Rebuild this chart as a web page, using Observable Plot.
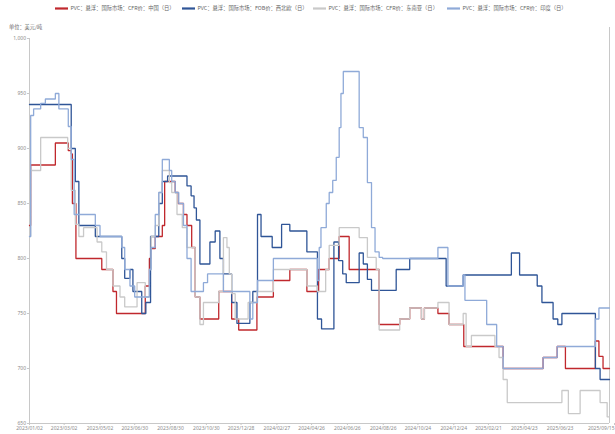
<!DOCTYPE html>
<html><head><meta charset="utf-8">
<script src="https://cdn.jsdelivr.net/npm/d3@7"></script>
<script src="https://cdn.jsdelivr.net/npm/@observablehq/plot@0.6"></script>
<style>
body{margin:0;background:#fff;font-family:"Noto Sans CJK SC","Noto Sans",sans-serif;}
#wrap{position:relative;width:615px;height:434px;overflow:hidden;}
#wrap svg{position:absolute;left:0;top:0;}
</style></head>
<body><div id="wrap"></div>
<script>
const seriesNames = ["PVC：悬浮：国际市场：CFR价：中国（日）","PVC：悬浮：国际市场：FOB价：西北欧（日）","PVC：悬浮：国际市场：CFR价：东南亚（日）","PVC：悬浮：国际市场：CFR价：印度（日）"];
const seriesColors = ["#c0282d","#2f5597","#c9c9c9","#8faad8"];
const unitLabel = "单位：美元/吨";
const yTicks = [650,700,750,800,850,900,950,1000];
const xTickDates = ["2023-01-02","2023-03-02","2023-05-02","2023-06-30","2023-08-30","2023-10-30","2023-12-28","2024-02-27","2024-04-26","2024-06-26","2024-08-26","2024-10-24","2024-12-24","2025-02-21","2025-04-23","2025-06-23","2025-09-15"];

const cfrChina = [["2023-01-02",830],["2023-01-04",885],["2023-02-15",905],["2023-03-09",898],["2023-03-14",895],["2023-03-16",850],["2023-03-22",800],["2023-05-05",790],["2023-05-24",770],["2023-05-30",750],["2023-07-18",775],["2023-07-25",800],["2023-07-28",809],["2023-08-04",820],["2023-08-16",830],["2023-08-20",870],["2023-09-07",860],["2023-09-12",850],["2023-09-21",840],["2023-09-27",830],["2023-10-05",810],["2023-10-11",765],["2023-10-19",745],["2023-11-20",770],["2023-12-12",745],["2023-12-24",735],["2024-01-24",765],["2024-02-21",780],["2024-03-20",790],["2024-04-18",770],["2024-05-08",790],["2024-05-26",800],["2024-06-12",820],["2024-06-29",790],["2024-08-19",740],["2024-09-23",745],["2024-10-10",755],["2024-10-30",745],["2024-11-04",755],["2024-11-27",750],["2024-12-16",740],["2025-01-10",720],["2025-03-18",700],["2025-05-25",710],["2025-06-18",720],["2025-07-02",700],["2025-08-22",725],["2025-08-28",711],["2025-09-04",700],["2025-09-15",700]];

const fobNWEurope = [["2023-01-02",940],["2023-03-14",900],["2023-03-21",870],["2023-03-27",830],["2023-04-24",820],["2023-06-08",800],["2023-06-13",782],["2023-06-22",790],["2023-06-27",770],["2023-07-12",750],["2023-07-19",760],["2023-07-27",820],["2023-08-10",850],["2023-08-16",870],["2023-08-25",875],["2023-09-27",866],["2023-10-04",857],["2023-10-09",846],["2023-10-13",835],["2023-10-19",795],["2023-11-05",815],["2023-11-14",825],["2023-11-22",800],["2023-11-28",786],["2023-12-12",760],["2023-12-21",741],["2024-01-12",760],["2024-01-17",770],["2024-01-25",840],["2024-01-31",820],["2024-02-19",810],["2024-03-06",831],["2024-03-20",825],["2024-04-18",806],["2024-05-06",745],["2024-05-13",736],["2024-06-03",815],["2024-06-11",798],["2024-06-18",786],["2024-06-24",778],["2024-07-16",805],["2024-07-23",795],["2024-07-30",781],["2024-08-06",771],["2024-09-17",790],["2024-10-10",800],["2024-12-11",775],["2025-01-09",785],["2025-04-01",805],["2025-04-15",785],["2025-05-15",775],["2025-05-23",760],["2025-06-11",745],["2025-06-19",740],["2025-06-26",750],["2025-08-22",700],["2025-08-30",690],["2025-09-15",690]];

const cfrSEAsia = [["2023-01-02",820],["2023-01-04",880],["2023-01-21",910],["2023-03-08",900],["2023-03-14",862],["2023-03-21",831],["2023-03-27",820],["2023-04-04",828],["2023-04-27",815],["2023-05-05",806],["2023-05-13",790],["2023-05-24",775],["2023-06-05",765],["2023-06-13",756],["2023-07-04",778],["2023-07-18",765],["2023-07-25",790],["2023-07-28",820],["2023-08-04",830],["2023-08-10",860],["2023-08-16",880],["2023-08-28",869],["2023-09-01",860],["2023-09-10",840],["2023-09-19",828],["2023-09-27",810],["2023-10-11",765],["2023-10-19",740],["2023-10-25",760],["2023-11-20",770],["2023-11-28",819],["2023-12-04",810],["2023-12-08",786],["2023-12-12",768],["2023-12-18",745],["2024-01-09",760],["2024-01-24",770],["2024-02-21",790],["2024-04-18",775],["2024-05-06",770],["2024-05-20",790],["2024-05-26",812],["2024-06-12",828],["2024-07-16",819],["2024-07-30",801],["2024-08-14",790],["2024-08-19",735],["2024-09-23",745],["2024-10-10",755],["2024-10-30",745],["2024-11-04",755],["2024-11-27",760],["2024-12-16",740],["2025-01-09",750],["2025-01-14",720],["2025-01-23",730],["2025-03-04",720],["2025-03-11",710],["2025-03-18",690],["2025-03-25",669],["2025-06-26",680],["2025-07-07",659],["2025-07-27",680],["2025-08-30",669],["2025-09-11",656],["2025-09-15",656]];

const cfrIndia = [["2023-01-02",820],["2023-01-04",930],["2023-01-09",936],["2023-01-21",941],["2023-01-29",945],["2023-02-15",950],["2023-02-21",936],["2023-03-09",920],["2023-03-14",890],["2023-03-19",840],["2023-04-24",830],["2023-05-02",820],["2023-06-08",810],["2023-06-13",790],["2023-06-22",775],["2023-06-30",765],["2023-07-25",790],["2023-07-28",810],["2023-08-04",840],["2023-08-10",860],["2023-08-16",890],["2023-08-28",880],["2023-09-01",870],["2023-09-07",860],["2023-09-13",850],["2023-09-21",830],["2023-09-27",800],["2023-10-04",770],["2023-10-25",778],["2023-11-01",786],["2023-11-28",770],["2024-01-12",745],["2024-01-17",760],["2024-01-25",780],["2024-02-21",800],["2024-05-06",780],["2024-05-09",810],["2024-05-12",828],["2024-05-21",850],["2024-05-26",860],["2024-06-01",871],["2024-06-07",892],["2024-06-12",919],["2024-06-15",950],["2024-06-19",970],["2024-07-16",919],["2024-07-23",910],["2024-07-30",869],["2024-08-06",828],["2024-08-12",806],["2024-08-19",801],["2024-08-25",800],["2024-11-27",810],["2024-12-14",775],["2025-01-09",785],["2025-01-12",762],["2025-02-18",740],["2025-03-07",720],["2025-03-18",700],["2025-05-25",710],["2025-06-18",720],["2025-08-22",745],["2025-08-28",755],["2025-09-15",755]];

const allSeries = [cfrChina, fobNWEurope, cfrSEAsia, cfrIndia];
const parse = d3.utcParse("%Y-%m-%d");
const rows = allSeries.flatMap((s, i) => s.map(([d, v]) => ({date: parse(d), value: v, name: seriesNames[i]})));
const tickDates = xTickDates.map(parse);
const xDomain = [tickDates[0], tickDates[tickDates.length - 1]];
const axisColor = "#c8c8c8";
const fmtDate = d3.utcFormat("%Y/%m/%d");

const chart = Plot.plot({
  width: 615, height: 434,
  marginLeft: 29, marginRight: 6, marginTop: 38, marginBottom: 11,
  style: {fontFamily: "'Noto Sans', sans-serif", fontSize: "5px", color: "#8c8c8c", background: "transparent"},
  x: {type: "utc", domain: xDomain},
  y: {domain: [650, 1000]},
  color: {domain: seriesNames, range: seriesColors},
  marks: [
    Plot.ruleX([xDomain[0]], {stroke: axisColor, strokeWidth: 1}),
    Plot.ruleX([xDomain[1]], {stroke: axisColor, strokeWidth: 1, y1: 650, y2: 1010}),
    Plot.ruleY([650], {stroke: axisColor, strokeWidth: 1}),
    Plot.axisY({ticks: yTicks, tickFormat: d3.format(","), tickSize: 2, tickPadding: 1.5, stroke: axisColor, fill: "#8c8c8c", label: null}),
    Plot.axisX({ticks: tickDates.slice(0, -1), tickFormat: fmtDate, tickSize: 2, tickPadding: 1, stroke: axisColor, fill: "#8c8c8c", label: null}),
    Plot.axisX({ticks: tickDates.slice(-1), tickFormat: fmtDate, tickSize: 2, tickPadding: 1, stroke: axisColor, fill: "#8c8c8c", label: null, textAnchor: "end", dx: 5}),
    Plot.line(rows, {x: "date", y: "value", z: "name", stroke: "name", curve: "step-after", strokeWidth: 1.3, strokeLinejoin: "miter"})
  ]
});
document.getElementById("wrap").appendChild(chart);

// legend and unit label (overlay)
const ov = d3.select("#wrap").append("svg").attr("width", 615).attr("height", 34)
  .style("font-family", "'Noto Sans CJK SC', sans-serif");
const legendX = [55, 182, 313, 447];
seriesNames.forEach((n, i) => {
  const g = ov.append("g").attr("transform", `translate(${legendX[i]},8.5)`);
  g.append("line").attr("x1", 0).attr("x2", 13).attr("y1", 0).attr("y2", 0)
    .attr("stroke", seriesColors[i]).attr("stroke-width", 2.2);
  g.append("text").attr("x", 15.5).attr("y", 0).attr("dy", "0.35em")
    .attr("font-size", 5.3).attr("fill", "#666").text(n);
});
ov.append("text").attr("x", 9).attr("y", 27).attr("dy", "0.35em").attr("font-size", 5.2).attr("fill", "#666").text(unitLabel);
</script></body></html>
